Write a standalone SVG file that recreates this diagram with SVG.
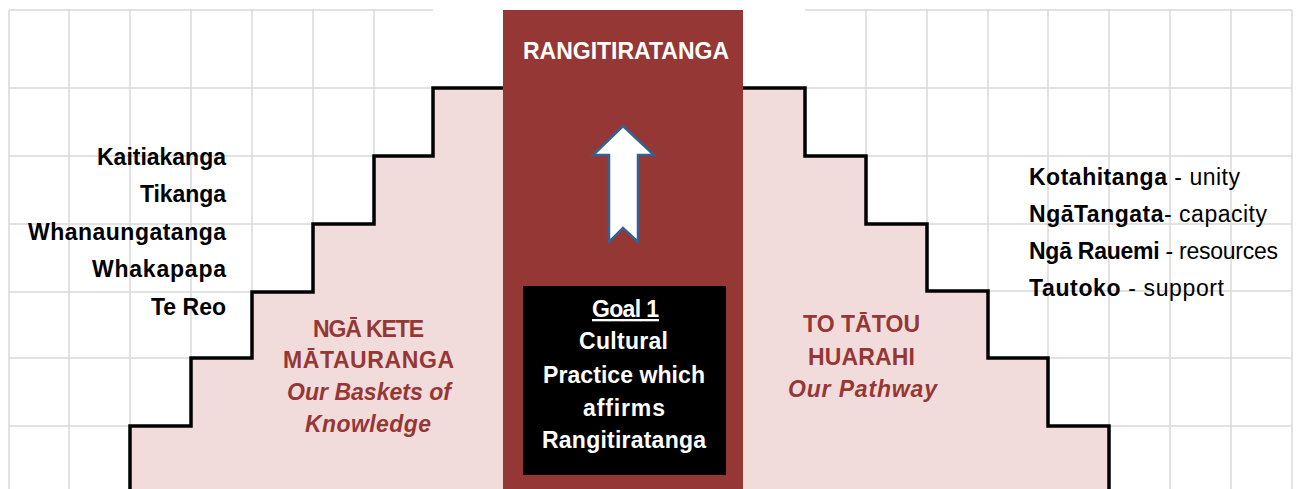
<svg xmlns="http://www.w3.org/2000/svg" width="1302" height="489" viewBox="0 0 1302 489">
<style>
.grid line{stroke:#d9d9d9;stroke-width:1.5}
.t{font-family:"Liberation Sans",Arial,sans-serif;font-size:23px}
.b{font-weight:bold}
.k{fill:#000}
.w{fill:#fff}
.r{fill:#953735}
.i{font-style:italic}
</style>
<rect width="1302" height="489" fill="#fff"/>
<g id="grid" class="grid">
<line x1="9" y1="10" x2="433" y2="10"/><line x1="9" y1="88" x2="433" y2="88"/><line x1="9" y1="156" x2="433" y2="156"/><line x1="9" y1="224" x2="433" y2="224"/><line x1="9" y1="292" x2="433" y2="292"/><line x1="9" y1="358" x2="433" y2="358"/><line x1="9" y1="426" x2="433" y2="426"/>
<line x1="9" y1="10" x2="9" y2="489"/><line x1="69" y1="10" x2="69" y2="489"/><line x1="130" y1="10" x2="130" y2="489"/><line x1="191" y1="10" x2="191" y2="489"/><line x1="252" y1="10" x2="252" y2="489"/><line x1="313" y1="10" x2="313" y2="489"/><line x1="374" y1="10" x2="374" y2="489"/>
<line x1="805" y1="10" x2="1292" y2="10"/><line x1="805" y1="88" x2="1292" y2="88"/><line x1="805" y1="156" x2="1292" y2="156"/><line x1="805" y1="224" x2="1292" y2="224"/><line x1="805" y1="291" x2="1292" y2="291"/><line x1="805" y1="358" x2="1292" y2="358"/><line x1="805" y1="426" x2="1292" y2="426"/>
<line x1="866" y1="10" x2="866" y2="489"/><line x1="927" y1="10" x2="927" y2="489"/><line x1="988" y1="10" x2="988" y2="489"/><line x1="1048" y1="10" x2="1048" y2="489"/><line x1="1109" y1="10" x2="1109" y2="489"/><line x1="1170" y1="10" x2="1170" y2="489"/><line x1="1231" y1="10" x2="1231" y2="489"/><line x1="1292" y1="10" x2="1292" y2="489"/>
</g>
<g id="steps">
<path d="M130,492 V426 H191 V358 H252 V292 H313 V224 H374 V156 H433 V88 H805 V156 H866 V224 H927 V291 H988 V358 H1048 V426 H1109 V492 Z" fill="#f2dcdb" stroke="#000" stroke-width="3.5" stroke-linejoin="miter"/>
</g>
<g id="rangitiratanga">
<rect x="503" y="10" width="240" height="479" fill="#953735"/>
<text class="t b w" x="523" y="59" textLength="206" font-size="23.5">RANGITIRATANGA</text>
</g>
<g id="arrow">
<polygon points="623,126 654,155 638,155 638,242 623,228 609,242 609,155 593,155" fill="#fff" stroke="#3a5f8f" stroke-width="2.5" stroke-linejoin="miter"/>
</g>
<g id="goal">
<rect x="523" y="286" width="203" height="189" fill="#000"/>
<text class="t b w" x="592" y="317" textLength="67" text-decoration="underline">Goal 1</text>
<text class="t b w" x="579" y="349" textLength="89">Cultural</text>
<text class="t b w" x="543" y="383" textLength="162">Practice which</text>
<text class="t b w" x="583" y="416" textLength="82">affirms</text>
<text class="t b w" x="542" y="448" textLength="164">Rangitiratanga</text>
</g>
<g id="nga-kete">
<text class="t b r" x="313" y="337" textLength="111">NGĀ KETE</text>
<text class="t b r" x="283" y="368" textLength="171">MĀTAURANGA</text>
<text class="t b r i" x="287" y="400" textLength="164">Our Baskets of</text>
<text class="t b r i" x="305" y="432" textLength="126">Knowledge</text>
</g>
<g id="to-tatou">
<text class="t b r" x="803" y="332" textLength="117">TO TĀTOU</text>
<text class="t b r" x="808" y="365" textLength="107">HUARAHI</text>
<text class="t b r i" x="788" y="397" textLength="149">Our Pathway</text>
</g>
<g id="left-labels">
<text class="t b k" x="97" y="165" textLength="129">Kaitiakanga</text>
<text class="t b k" x="140" y="202" textLength="86">Tikanga</text>
<text class="t b k" x="28" y="239.5" textLength="198">Whanaungatanga</text>
<text class="t b k" x="92" y="277" textLength="134">Whakapapa</text>
<text class="t b k" x="151" y="315" textLength="75">Te Reo</text>
</g>
<g id="right-labels">
<text class="t k" x="1029" y="185" textLength="211"><tspan class="b">Kotahitanga</tspan> - unity</text>
<text class="t k" x="1029" y="222" textLength="238"><tspan class="b">NgāTangata</tspan>- capacity</text>
<text class="t k" x="1029" y="259" textLength="249"><tspan class="b">Ngā Rauemi</tspan> - resources</text>
<text class="t k" x="1029" y="296" textLength="195"><tspan class="b">Tautoko</tspan> - support</text>
</g>
<g id="connectors"></g>
</svg>
